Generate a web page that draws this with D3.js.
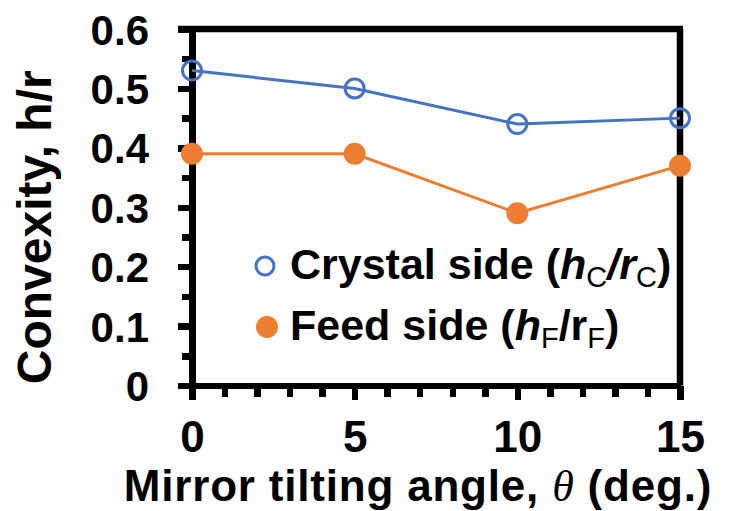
<!DOCTYPE html>
<html>

<head>
  <script src="https://cdn.jsdelivr.net/npm/d3@7"></script>
  <style>
    * {
      margin: 0px;
      padding: 0px;
    }
    body {
      background: white;
    }
    text {
      font-family: "Liberation Sans", Arial, sans-serif;
      font-weight: bold;
      fill: black;
    }
    .axis path,
    .axis line {
      stroke: black;
      stroke-width: 6.5;
      shape-rendering: crispEdges;
    }
  </style>
</head>

<body>
  <script type="text/javascript">
    // data
    var angles = [0, 5, 10, 15];
    var crystalSide = [0.53, 0.50, 0.44, 0.45];
    var feedSide = [0.39, 0.39, 0.29, 0.37];
    var yTicks = [0, 0.1, 0.2, 0.3, 0.4, 0.5, 0.6];
    var xTicks = [0, 5, 10, 15];

    var w = 730;
    var h = 511;

    var blue = "#4472C4";
    var orange = "#ED7D31";

    var x = d3.scaleLinear().domain([0, 15]).range([192, 680]);
    var y = d3.scaleLinear().domain([0, 0.6]).range([385.5, 29]);

    var svg = d3.select("body").append("svg")
      .attr("width", w)
      .attr("height", h);

    // minor ticks first, then major on top
    svg.append("g")
      .attr("class", "axis")
      .attr("transform", "translate(" + x(0) + ",0)")
      .call(d3.axisLeft(y).tickValues(d3.range(0, 0.61, 0.05)).tickSize(10).tickFormat(""))
      .select(".domain").remove();

    svg.append("g")
      .attr("class", "axis")
      .attr("transform", "translate(0," + y(0) + ")")
      .call(d3.axisBottom(x).tickValues(d3.range(0, 16, 1)).tickSize(11.5).tickFormat(""))
      .select(".domain").remove();

    // y axis with labels
    var yAxis = svg.append("g")
      .attr("class", "axis")
      .attr("transform", "translate(" + x(0) + ",0)")
      .call(d3.axisLeft(y).tickValues(yTicks).tickSize(14).tickSizeOuter(0)
        .tickFormat(function(d) { return d === 0 ? "0" : d3.format(".1f")(d); }));
    yAxis.selectAll("text")
      .attr("x", -43)
      .attr("dy", "0.36em")
      .style("font-size", "42px")
      .style("font-family", "Liberation Sans");

    // x axis with labels
    var xAxis = svg.append("g")
      .attr("class", "axis")
      .attr("transform", "translate(0," + y(0) + ")")
      .call(d3.axisBottom(x).tickValues(xTicks).tickSize(14.5).tickSizeOuter(0));
    xAxis.selectAll("text")
      .attr("y", 66)
      .attr("dy", 0)
      .style("font-size", "44px")
      .style("font-family", "Liberation Sans");

    // frame on top and right
    svg.append("line")
      .attr("x1", x(0) - 14).attr("x2", x(15) + 3)
      .attr("y1", y(0.6)).attr("y2", y(0.6))
      .attr("stroke", "black").attr("stroke-width", 6.5);
    svg.append("line")
      .attr("x1", x(15)).attr("x2", x(15))
      .attr("y1", y(0.6)).attr("y2", y(0))
      .attr("stroke", "black").attr("stroke-width", 6.5);

    var line = d3.line()
      .x(function(d) { return x(d[0]); })
      .y(function(d) { return y(d[1]); });

    var crystalPts = angles.map(function(a, i) { return [a, crystalSide[i]]; });
    var feedPts = angles.map(function(a, i) { return [a, feedSide[i]]; });

    svg.append("path")
      .attr("d", line(crystalPts))
      .attr("fill", "none")
      .attr("stroke", blue)
      .attr("stroke-width", 3);

    svg.append("path")
      .attr("d", line(feedPts))
      .attr("fill", "none")
      .attr("stroke", orange)
      .attr("stroke-width", 3);

    svg.selectAll(".crystal")
      .data(crystalPts)
      .enter()
      .append("circle")
      .attr("class", "crystal")
      .attr("cx", function(d) { return x(d[0]); })
      .attr("cy", function(d) { return y(d[1]); })
      .attr("r", 9.5)
      .attr("fill", "none")
      .attr("stroke", blue)
      .attr("stroke-width", 3);

    svg.selectAll(".feed")
      .data(feedPts)
      .enter()
      .append("circle")
      .attr("class", "feed")
      .attr("cx", function(d) { return x(d[0]); })
      .attr("cy", function(d) { return y(d[1]); })
      .attr("r", 11)
      .attr("fill", orange);

    // legend
    var legend = svg.append("g");
    legend.append("circle")
      .attr("cx", 265).attr("cy", 266).attr("r", 9)
      .attr("fill", "none").attr("stroke", blue).attr("stroke-width", 3);
    legend.append("circle")
      .attr("cx", 267).attr("cy", 327).attr("r", 11)
      .attr("fill", orange);

    var t1 = legend.append("text")
      .attr("x", 290).attr("y", 279)
      .style("font-size", "43px");
    t1.append("tspan").text("Crystal side (");
    t1.append("tspan").style("font-style", "italic").text("h");
    t1.append("tspan").attr("dy", 8).style("font-size", "29px").style("font-weight", "normal").text("C");
    t1.append("tspan").attr("dy", -8).style("font-style", "italic").text("/r");
    t1.append("tspan").attr("dy", 8).style("font-size", "29px").style("font-weight", "normal").text("C");
    t1.append("tspan").attr("dy", -8).text(")");

    var t2 = legend.append("text")
      .attr("x", 290).attr("y", 340)
      .style("font-size", "43px");
    t2.append("tspan").text("Feed side (");
    t2.append("tspan").style("font-style", "italic").text("h");
    t2.append("tspan").attr("dy", 8).style("font-size", "29px").style("font-weight", "normal").text("F");
    t2.append("tspan").attr("dy", -8).text("/r");
    t2.append("tspan").attr("dy", 8).style("font-size", "29px").style("font-weight", "normal").text("F");
    t2.append("tspan").attr("dy", -8).text(")");

    // axis titles
    svg.append("text")
      .attr("transform", "translate(51," + ((y(0) + y(0.6)) / 2 + 20) + ") rotate(-90)")
      .attr("text-anchor", "middle")
      .style("font-size", "48px")
      .text("Convexity, h/r");

    var xt = svg.append("text")
      .attr("x", 418).attr("y", 501)
      .attr("text-anchor", "middle")
      .style("font-size", "44px")
      .style("letter-spacing", "0.8px");
    xt.append("tspan").text("Mirror tilting angle, ");
    xt.append("tspan")
      .style("font-style", "italic")
      .style("font-weight", "normal")
      .style("font-family", "Liberation Serif")
      .text("\u03b8");
    xt.append("tspan").text(" (deg.)");
  </script>
</body>

</html>
